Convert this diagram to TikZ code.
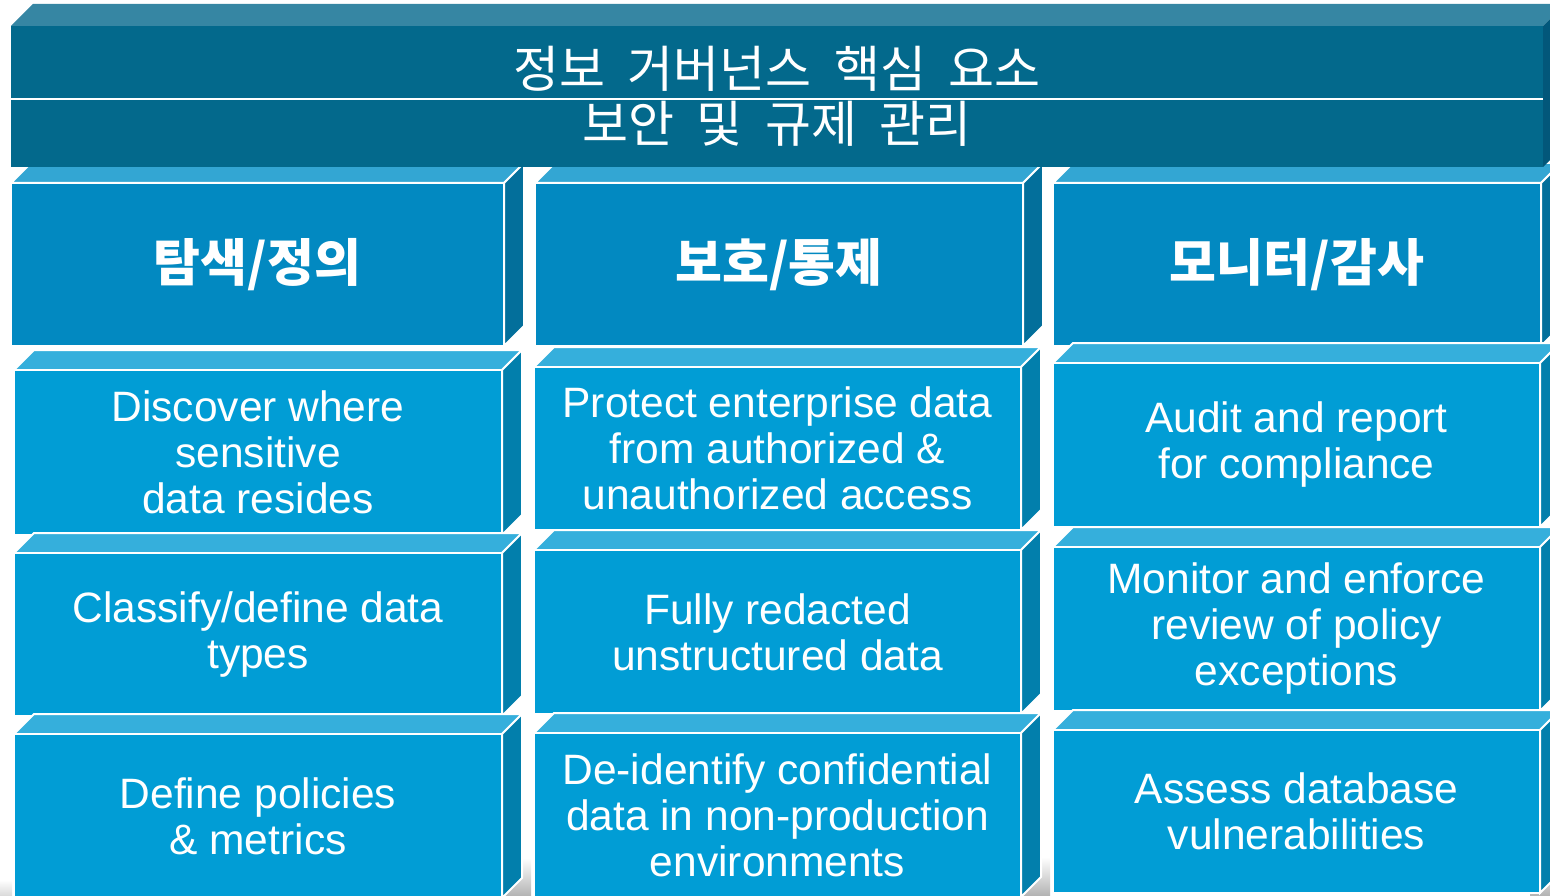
\documentclass[tikz,border=0pt]{standalone}
\usepackage{fontspec}
\setmainfont{Liberation Sans}
\newfontfamily\kr{Noto Sans CJK KR}
\usetikzlibrary{calc}

\definecolor{titF}{HTML}{03698C}
\definecolor{titT}{HTML}{3686A3}
\definecolor{titS}{HTML}{02577A}
\definecolor{hdrF}{HTML}{0289C1}
\definecolor{hdrT}{HTML}{33A6D3}
\definecolor{hdrS}{HTML}{036F9B}
\definecolor{bodyF}{HTML}{019DD5}
\definecolor{bodyT}{HTML}{35AFDC}
\definecolor{bodyS}{HTML}{027FAC}

\tikzset{
  face/.style={draw=white, line width=2pt},
  hdrbox/.style={fill=hdrF, draw=white, line width=2pt, inner sep=0pt, outer sep=0pt,
    text=white, font=\kr\bfseries\fontsize{51}{55}\selectfont},
  bodybox/.style={fill=bodyF, draw=white, line width=2pt, inner sep=0pt, outer sep=0pt,
    text=white, align=center, font=\fontsize{42.5}{46}\selectfont},
  tittext/.style={text=white, inner sep=0pt, font=\kr\fontsize{50}{54}\selectfont},
  shade/.style={top color=white, bottom color=black!30},
}

\newcommand{\dep}{20}
\newcommand{\gap}{\hspace{0.45em}}
\newcommand{\hd}[1]{\raisebox{-6pt}{#1}}
% #1 name, #2 x1, #3 y1, #4 x2, #5 y2, #6 style, #7 top colour, #8 side colour, #9 text
\newcommand{\blk}[9]{%
  \fill[#7, face] (#2,#3) -- ++(\dep,-\dep) -- (#4+\dep,#3-\dep) -- (#4,#3) -- cycle;
  \fill[#8, face] (#4,#3) -- ++(\dep,-\dep) -- (#4+\dep,#5-\dep) -- (#4,#5) -- cycle;
  \node[#6, minimum width=#4pt-#2pt, minimum height=#5pt-#3pt] (#1) at ({(#2+#4)/2},{(#3+#5)/2}) {#9};
}

\begin{document}
\begin{tikzpicture}[x=1pt,y=-1pt]
\useasboundingbox (0,0) rectangle (1550,896);
\clip (0,0) rectangle (1550,896);

% faint shadows at the foot
\fill[shade] (505,858) rectangle (531,896);
\fill[shade] (1023,857) rectangle (1050,896);
\fill[shade] (1530,860) rectangle (1550,896);
\fill[top color=white, bottom color=black!15] (0,880) rectangle (12,896);

% column headers
\blk{h1}{11}{183}{504}{346}{hdrbox}{hdrT}{hdrS}{\hd{탐색/정의}}
\blk{h2}{535}{183}{1023}{346}{hdrbox}{hdrT}{hdrS}{\hd{보호/통제}}
\blk{h3}{1053}{183}{1541}{346}{hdrbox}{hdrT}{hdrS}{\hd{모니터/감사}}

% column 1
\blk{a1}{14}{370}{502}{535}{bodybox}{bodyT}{bodyS}{Discover where\\sensitive\\data resides}
\blk{b1}{14}{553}{502}{716}{bodybox}{bodyT}{bodyS}{Classify/define data\\types}
\blk{c1}{14}{734}{502}{898}{bodybox}{bodyT}{bodyS}{Define policies\\\& metrics}

% column 2
\blk{a2}{534}{367}{1021}{530}{bodybox}{bodyT}{bodyS}{Protect enterprise data\\from authorized \&\\unauthorized access}
\blk{b2}{534}{550}{1021}{714}{bodybox}{bodyT}{bodyS}{Fully redacted\\unstructured data}
\blk{c2}{534}{733}{1021}{897}{bodybox}{bodyT}{bodyS}{De-identify confidential\\data in non-production\\environments}

% column 3
\blk{a3}{1053}{363}{1540}{527}{bodybox}{bodyT}{bodyS}{Audit and report\\for compliance}
\blk{b3}{1053}{547}{1540}{711}{bodybox}{bodyT}{bodyS}{Monitor and enforce\\review of policy\\exceptions}
\blk{c3}{1053}{730}{1540}{893}{bodybox}{bodyT}{bodyS}{Assess database\\vulnerabilities}

% title block
\fill[titT] (11,26) -- (33,4) -- (1565,4) -- (1543,26) -- cycle;
\fill[titS] (1543,26) -- (1565,4) -- (1565,145) -- (1543,167) -- cycle;
\node[fill=titF, inner sep=0pt, outer sep=0pt, minimum width=1532pt, minimum height=141pt] (tit) at (777,96.5) {};
\draw[white, line width=1.5pt] ([yshift=-2.5pt]tit.west) -- ([yshift=-2.5pt]tit.east);
\node[tittext] (t1) at (777,69) {정보\gap 거버넌스\gap 핵심\gap 요소};
\node[tittext] (t2) at (777,124) {보안\gap 및\gap 규제\gap 관리};
\end{tikzpicture}
\end{document}
